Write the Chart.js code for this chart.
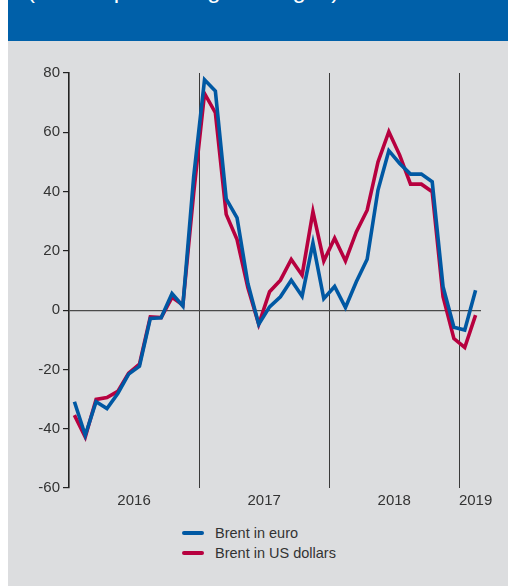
<!DOCTYPE html>
<html>
<head>
<meta charset="utf-8">
<script src="https://cdn.jsdelivr.net/npm/chart.js@4"></script>
<style>
  html, body { margin: 0; padding: 0; background: #ffffff; width: 508px; height: 586px; overflow: hidden; }
  body { position: relative; font-family: "Liberation Sans", Arial, sans-serif; }
  #header { position: absolute; left: 8px; top: 0; width: 500px; height: 41px; background: #0060a9; overflow: hidden; }
  #header span { position: absolute; left: 19px; top: -22px; font-size: 24px; line-height: 24px; color: #ffffff; white-space: nowrap; }
  #panel { position: absolute; left: 8px; top: 41px; width: 500px; height: 545px; background: #dcdddf; }
  #wrap { position: absolute; left: 8px; top: 41px; width: 500px; height: 480px; }
  #legend { position: absolute; left: 182px; top: 523px; font-size: 14.5px; color: #333333; }
  .row { position: relative; height: 20px; line-height: 20px; white-space: nowrap; }
  .sw { position: absolute; left: 0; top: 8px; width: 22px; height: 4px; border-radius: 2px; }
  .lbl { position: absolute; left: 33px; top: 0; }
</style>
</head>
<body>
<div id="header"><span>(annual percentage changes)</span></div>
<div id="panel"></div>
<div id="wrap"><canvas id="c" width="500" height="480"></canvas></div>
<div id="legend">
  <div class="row"><span class="sw" style="background:#0058a3"></span><span class="lbl">Brent in euro</span></div>
  <div class="row"><span class="sw" style="background:#b7003f"></span><span class="lbl">Brent in US dollars</span></div>
</div>
<script>
// Monthly observations, January 2016 to February 2019
const years = ['2016', '2017', '2018', '2019'];
const monthsPerYear = [12, 12, 12, 2];

const brentEuro = [
  -30.9, -42.2, -30.9, -33.2, -28.1, -21.6, -18.9, -2.8, -2.6, 5.6, 1.4, 45.0,
  77.7, 73.9, 37.5, 31.1, 9.0, -4.8, 1.1, 4.5, 10.1, 4.7, 22.7, 3.9,
  8.0, 0.9, 9.6, 17.2, 40.5, 53.8, 49.5, 45.9, 45.9, 43.3, 7.9, -5.8,
  -6.7, 6.7
];
const brentUsd = [
  -35.4, -42.8, -30.1, -29.5, -27.4, -21.3, -18.2, -2.3, -2.5, 4.3, 1.7, 39.5,
  73.1, 66.6, 32.3, 23.8, 7.5, -4.8, 6.2, 10.1, 17.1, 11.8, 33.2, 16.6,
  24.3, 16.6, 26.4, 33.7, 50.0, 60.2, 52.3, 42.5, 42.5, 39.9, 4.5, -9.6,
  -12.6, -1.7
];
const yTicks = [-60, -40, -20, 0, 20, 40, 60, 80];

const nMonths = brentEuro.length;
const xMin = -0.5, xMax = nMonths - 0.5;

// year boundaries and year label positions (in month-index units)
const yearStarts = [];
const yearCentres = [];
let acc = 0;
monthsPerYear.forEach((m, i) => {
  if (i > 0) yearStarts.push(acc - 0.5);
  yearCentres.push(acc - 0.5 + (i === monthsPerYear.length - 1 ? 1.5 : m / 2));
  acc += m;
});

const toXY = arr => arr.map((v, i) => ({ x: i, y: v }));

const FONT = { family: '"Liberation Sans", Arial, sans-serif', size: 15 };

new Chart(document.getElementById('c'), {
  type: 'line',
  data: {
    datasets: [
      { label: 'Brent in euro', data: toXY(brentEuro), borderColor: '#0058a3', borderWidth: 3.6,
        pointRadius: 0, tension: 0, borderJoinStyle: 'miter', borderCapStyle: 'butt', fill: false },
      { label: 'Brent in US dollars', data: toXY(brentUsd), borderColor: '#b7003f', borderWidth: 3.6,
        pointRadius: 0, tension: 0, borderJoinStyle: 'miter', borderCapStyle: 'butt', fill: false }
    ]
  },
  options: {
    responsive: false,
    animation: false,
    devicePixelRatio: 1,
    layout: { padding: { top: 32, right: 27, left: 0, bottom: 0 } },
    plugins: { legend: { display: false }, tooltip: { enabled: false } },
    scales: {
      x: {
        type: 'linear', position: 'bottom', min: xMin, max: xMax, weight: 0,
        afterBuildTicks: s => { s.ticks = yearStarts.map(v => ({ value: v })); },
        afterFit: s => { s.height = 0; },
        ticks: { display: false },
        grid: { color: '#3a3a3a', lineWidth: 1, drawTicks: false },
        border: { display: false }
      },
      x2: {
        type: 'linear', position: 'bottom', min: xMin, max: xMax, weight: 1,
        afterBuildTicks: s => { s.ticks = yearCentres.map(v => ({ value: v })); },
        afterFit: s => { s.height = 33; },
        ticks: {
          color: '#333333', font: FONT, padding: 4, maxRotation: 0, autoSkip: false,
          callback: (v, i) => years[i]
        },
        grid: { display: false, drawTicks: false },
        border: { display: false }
      },
      y: {
        min: -60, max: 80,
        afterBuildTicks: s => { s.ticks = yTicks.map(v => ({ value: v })); },
        afterFit: s => { s.width = 61; },
        ticks: { color: '#333333', font: FONT, padding: 3 },
        grid: {
          color: c => (c.tick && c.tick.value === 0) ? '#4a4a4a' : 'rgba(0,0,0,0)',
          lineWidth: 1.2, tickLength: 6, tickColor: '#222222', tickWidth: 1.2
        },
        border: { color: '#222222', width: 1.6 }
      }
    }
  }
});
</script>
</body>
</html>
